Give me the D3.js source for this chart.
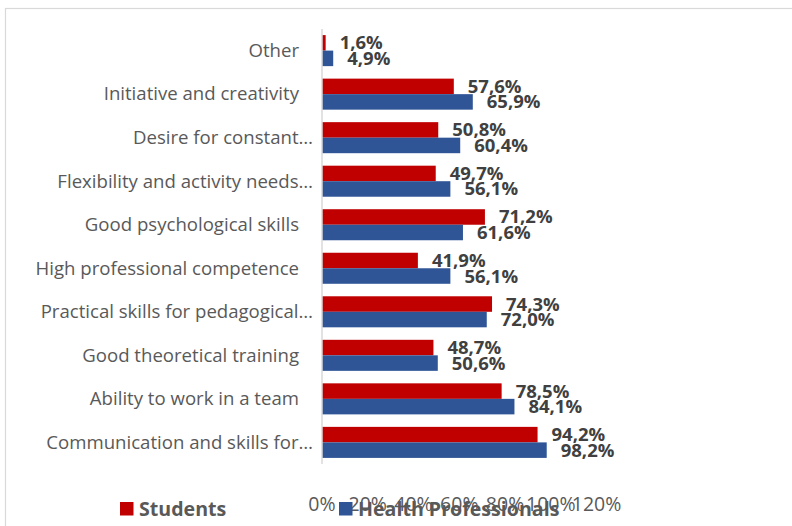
<!DOCTYPE html>
<html>
<head>
<meta charset="utf-8">
<script src="https://cdn.jsdelivr.net/npm/d3@7/dist/d3.min.js"></script>
<style>
  html, body { margin: 0; padding: 0; background: #fff; }
  svg { display: block; }
</style>
</head>
<body>
<svg id="chart" width="792" height="526"></svg>
<script>
// Qualities listed top to bottom
const categories = [
  "Other",
  "Initiative and creativity",
  "Desire for constant…",
  "Flexibility and activity needs…",
  "Good psychological skills",
  "High professional competence",
  "Practical skills for pedagogical…",
  "Good theoretical training",
  "Ability to work in a team",
  "Communication and skills for…"
];
const students = [1.6, 57.6, 50.8, 49.7, 71.2, 41.9, 74.3, 48.7, 78.5, 94.2];
const professionals = [4.9, 65.9, 60.4, 56.1, 61.6, 56.1, 72.0, 50.6, 84.1, 98.2];
const seriesNames = ["Students", "Health Professionals"];
const tickValues = [0, 20, 40, 60, 80, 100, 120];

const colors = ["#C00000", "#2F5597"];
const font = "'Open Sans', Lato, sans-serif";

const svg = d3.select("#chart");

// chart frame
svg.append("rect")
  .attr("x", 5.5).attr("y", 8.5)
  .attr("width", 820).attr("height", 600)
  .attr("fill", "#fff")
  .attr("stroke", "#D9D9D9").attr("stroke-width", 1.2);

const x = d3.scaleLinear().domain([0, 120]).range([322, 596.6]);
const y = d3.scaleBand().domain(categories).range([29, 464])
  .paddingInner(0.287).paddingOuter(0.14);
const ySeries = d3.scaleBand().domain(seriesNames).range([0, y.bandwidth()]);

const rows = categories.map((c, i) => ({ cat: c, vals: [students[i], professionals[i]] }));

const groups = svg.append("g").selectAll("g").data(rows).join("g")
  .attr("transform", d => `translate(0,${y(d.cat)})`);

groups.selectAll("rect").data(d => d.vals.map((v, k) => ({ v, k })))
  .join("rect")
  .attr("x", x(0))
  .attr("y", d => ySeries(seriesNames[d.k]))
  .attr("width", d => x(d.v) - x(0))
  .attr("height", ySeries.bandwidth())
  .attr("fill", d => colors[d.k]);

// value labels
groups.selectAll("text").data(d => d.vals.map((v, k) => ({ v, k })))
  .join("text")
  .attr("x", d => x(d.v) + 14)
  .attr("y", d => ySeries(seriesNames[d.k]) + ySeries.bandwidth() / 2 + 6.5)
  .attr("font-family", font)
  .attr("font-weight", "bold")
  .attr("font-size", 18.5)
  .attr("fill", "#404040")
  .text(d => d.v.toFixed(1).replace(".", ",") + "%");

// category axis line
svg.append("line")
  .attr("x1", x(0)).attr("x2", x(0))
  .attr("y1", 29).attr("y2", 464)
  .attr("stroke", "#D9D9D9").attr("stroke-width", 1.5);

// category labels
svg.append("g").selectAll("text").data(categories).join("text")
  .attr("x", d => d.endsWith("…") ? 313 : 299)
  .attr("y", d => y(d) + y.bandwidth() / 2 + 6.3)
  .attr("text-anchor", "end")
  .attr("font-family", font)
  .attr("font-size", 18.6)
  .attr("fill", "#595959")
  .text(d => d);

// value axis tick labels
svg.append("g").selectAll("text").data(tickValues).join("text")
  .attr("x", d => x(d))
  .attr("y", 510.5)
  .attr("text-anchor", "middle")
  .attr("font-family", font)
  .attr("font-size", 19.5)
  .attr("fill", "#595959")
  .text(d => d + "%");

// legend
const legendX = [120, 339];
const legend = svg.append("g").selectAll("g").data(seriesNames).join("g")
  .attr("transform", (d, i) => `translate(${legendX[i]},502)`);
legend.append("rect")
  .attr("width", 13.5).attr("height", 13.5)
  .attr("fill", (d, i) => colors[i]);
legend.append("text")
  .attr("x", 19).attr("y", 13.5)
  .attr("font-family", font)
  .attr("font-weight", "bold")
  .attr("font-size", 19.6)
  .attr("fill", "#595959")
  .text(d => d);
</script>
</body>
</html>
